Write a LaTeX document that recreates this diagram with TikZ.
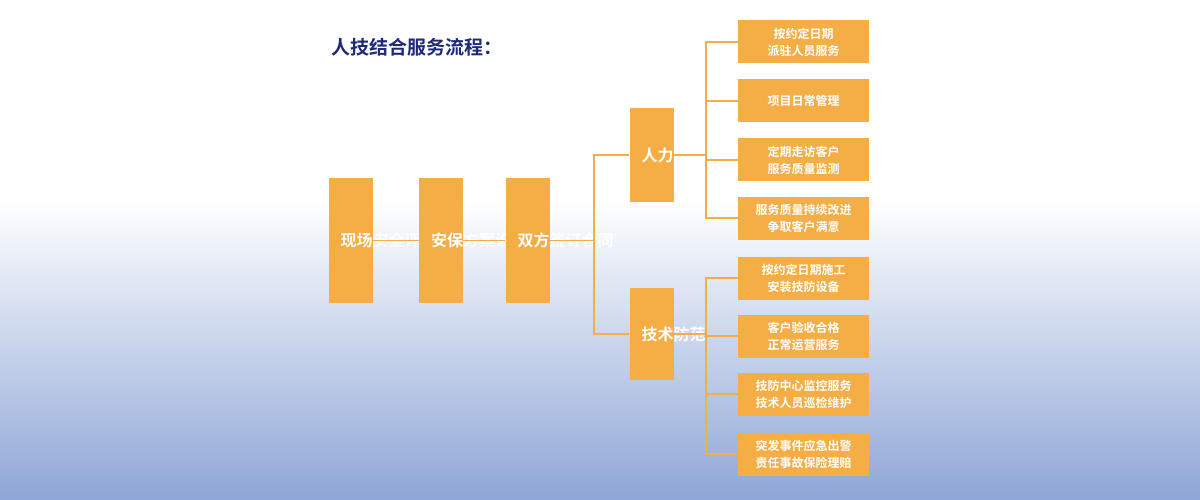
\documentclass[tikz,border=0pt]{standalone}
\usepackage{fontspec}
\newfontfamily\cjk{Noto Sans CJK SC Bold}
\definecolor{org}{HTML}{F5AD45}
\definecolor{navy}{HTML}{1E2A78}
\definecolor{bgb}{HTML}{8EA6D6}
\begin{document}
\begin{tikzpicture}[x=1pt,y=-1pt,
  vbox/.style={fill=org,minimum width=44pt,text width=20pt,align=center,font=\cjk\fontsize{16}{20}\selectfont,text=white,inner sep=0pt},
  hbox/.style={fill=org,minimum width=131pt,minimum height=43pt,align=center,font=\cjk\fontsize{12}{17}\selectfont,text=white,inner sep=0pt},
  ln/.style={draw=org,line width=1.6pt}]
\fill[white] (0,0) rectangle (1200,200);
\shade[top color=white,bottom color=bgb] (0,200) rectangle (1200,500);
\useasboundingbox (0,0) rectangle (1200,500);
\node[anchor=west,text=navy,font=\cjk\fontsize{19}{22}\selectfont] (t) at (328,47) {人技结合服务流程：};
\node[vbox,minimum height=125pt] (a) at (350.5,240.5) {现场安全评估};
\node[vbox,minimum height=125pt] (b) at (441,240.5) {安保方案设计};
\node[vbox,minimum height=125pt] (c) at (527.5,240.5) {双方签订合同};
\node[vbox,minimum height=94pt] (r) at (651.5,155) {人力护卫};
\node[vbox,minimum height=92pt] (s) at (651.5,334) {技术防范};
\node[hbox] (r1) at (803.5,42) {按约定日期\\派驻人员服务};
\node[hbox] (r2) at (803.5,101) {项目日常管理};
\node[hbox] (r3) at (803.5,160) {定期走访客户\\服务质量监测};
\node[hbox] (r4) at (803.5,218) {服务质量持续改进\\争取客户满意};
\node[hbox] (s1) at (803.5,278) {按约定日期施工\\安装技防设备};
\node[hbox] (s2) at (803.5,336) {客户验收合格\\正常运营服务};
\node[hbox] (s3) at (803.5,394) {技防中心监控服务\\技术人员巡检维护};
\node[hbox] (s4) at (803.5,454) {突发事件应急出警\\责任事故保险理赔};
\draw[ln] (a) -- (b);
\draw[ln] (b) -- (c);
\coordinate (j1) at (594,240.5);
\draw[ln] (c.east) -- (j1);
\draw[ln] (r.west) -| (j1) |- (s.west);
\coordinate (j2) at (706,155);
\coordinate (j3) at (706,334);
\draw[ln] (r.east) -- (j2);
\draw[ln] (s.east) -- (j3);
\foreach \n in {r1,r2,r3,r4} \draw[ln] (\n.west) -| (j2);
\foreach \n in {s1,s2,s3,s4} \draw[ln] (\n.west) -| (j3);
\end{tikzpicture}
\end{document}
